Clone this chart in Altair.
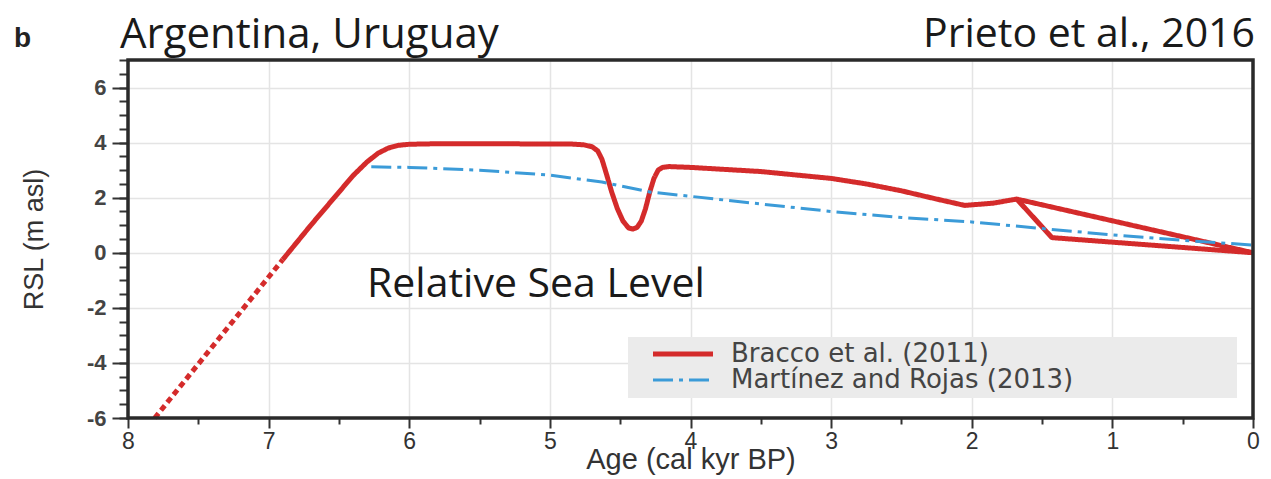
import altair as alt
import pandas as pd

# ---------------- data ----------------
series_names = ["Bracco et al. (2011)", "Martínez and Rojas (2013)"]
series_colors = ["#d42b2b", "#3b9bd8"]

# Bracco et al. (2011): main solid curve (upper branch after 1.68 kyr)
bracco_age = [6.9, 6.7, 6.5, 6.4, 6.3, 6.22, 6.15, 6.08, 6.0, 5.8, 5.5, 5.0, 4.85,
              4.76, 4.7, 4.66, 4.63, 4.6, 4.56, 4.52, 4.48, 4.44, 4.41, 4.38, 4.35,
              4.32, 4.29, 4.26, 4.23, 4.2, 4.15, 4.0, 3.5, 3.0, 2.75, 2.5, 2.25,
              2.05, 1.85, 1.68, 0.0]
bracco_rsl = [-0.25, 1.0, 2.2, 2.8, 3.3, 3.62, 3.8, 3.9, 3.94, 3.96, 3.96, 3.95, 3.95,
              3.92, 3.85, 3.7, 3.4, 2.9, 2.2, 1.6, 1.15, 0.9, 0.86, 0.92, 1.15,
              1.6, 2.2, 2.7, 3.0, 3.1, 3.13, 3.1, 2.95, 2.7, 2.5, 2.25, 1.95,
              1.72, 1.8, 1.95, 0.0]
# Bracco et al. (2011): lower branch
bracco_low_age = [1.68, 1.43, 0.0]
bracco_low_rsl = [1.95, 0.55, 0.0]
# Bracco et al. (2011): extrapolated (dashed) part
bracco_ext_age = [7.81, 6.9]
bracco_ext_rsl = [-6.0, -0.25]

# Martínez and Rojas (2013)
martinez_age = [6.27, 6.0, 5.5, 5.0, 4.63, 4.28, 4.0, 3.57, 3.0, 2.5, 2.0, 1.5, 1.0, 0.5, 0.0]
martinez_rsl = [3.12, 3.1, 3.0, 2.82, 2.57, 2.2, 2.05, 1.81, 1.5, 1.28, 1.12, 0.88, 0.65, 0.45, 0.28]

x_major = [8, 7, 6, 5, 4, 3, 2, 1, 0]
x_minor = [7.5, 6.5, 5.5, 4.5, 3.5, 2.5, 1.5, 0.5]
y_major = [-6, -4, -2, 0, 2, 4, 6]
y_minor = [v / 2 for v in range(-12, 15)]

# ---------------- tables ----------------
rows = []
for i, (a, r) in enumerate(zip(bracco_age, bracco_rsl)):
    rows.append({"age": a, "rsl": r, "series": series_names[0], "branch": "b1", "idx": i})
for i, (a, r) in enumerate(zip(bracco_low_age, bracco_low_rsl)):
    rows.append({"age": a, "rsl": r, "series": series_names[0], "branch": "b2", "idx": i})
for i, (a, r) in enumerate(zip(martinez_age, martinez_rsl)):
    rows.append({"age": a, "rsl": r, "series": series_names[1], "branch": "m1", "idx": i})
df = pd.DataFrame(rows)
df_ext = pd.DataFrame({"age": bracco_ext_age, "rsl": bracco_ext_rsl})
one = pd.DataFrame({"k": [0]})

W, H = 1125, 358
xs = alt.Scale(domain=[8, 0], nice=False, zero=False)
ys = alt.Scale(domain=[-6, 7], nice=False, zero=False)

lab_font = "Liberation Sans"
label_expr = "datum.value < 0 ? '-' + abs(datum.value) : '' + datum.value"

x_axis = alt.Axis(values=x_major, orient="bottom", grid=True, gridColor="#e4e4e4", gridWidth=1.5,
                  domain=False, tickSize=10, tickWidth=2, tickColor="#333",
                  labelFont=lab_font, labelFontSize=23, labelColor="#333", labelPadding=2,
                  labelFlush=False, labelOverlap=False, labelExpr=label_expr,
                  title="Age (cal kyr BP)", titleFont=lab_font, titleFontSize=29,
                  titleFontWeight="normal", titleColor="#333", titlePadding=-8)
y_axis = alt.Axis(values=y_major, orient="left", grid=True, gridColor="#e4e4e4", gridWidth=1.5,
                  domain=False, tickSize=16, tickWidth=2, tickColor="#333",
                  labelFont=lab_font, labelFontSize=22, labelFontWeight="bold", labelColor="#444",
                  labelPadding=6, labelFlush=False, labelOverlap=False, labelExpr=label_expr,
                  title="RSL (m asl)", titleFont=lab_font, titleFontSize=27,
                  titleFontWeight="normal", titleColor="#333", titlePadding=38)

legend = alt.Legend(title=None, orient="none", legendX=562, legendY=281,
                    symbolType="M-5,0H1", symbolSize=400, labelFont="DejaVu Sans",
                    labelFontSize=26, labelColor="#444", labelOffset=15, padding=0,
                    rowPadding=0, labelLimit=800, symbolStrokeWidth=4)

lines = alt.Chart(df).mark_line(strokeJoin="round").encode(
    x=alt.X("age:Q", scale=xs, axis=x_axis),
    y=alt.Y("rsl:Q", scale=ys, axis=y_axis),
    color=alt.Color("series:N", scale=alt.Scale(domain=series_names, range=series_colors), legend=legend),
    strokeDash=alt.StrokeDash("series:N", scale=alt.Scale(domain=series_names, range=[[1, 0], [20, 6, 4, 6]]), legend=legend),
    strokeWidth=alt.StrokeWidth("series:N", scale=alt.Scale(domain=series_names, range=[5, 3]), legend=legend),
    detail="branch:N",
    order="idx:Q",
)

ext = alt.Chart(df_ext).mark_line(color=series_colors[0], strokeWidth=5, strokeDash=[6, 4]).encode(
    x=alt.X("age:Q", scale=xs, axis=None),
    y=alt.Y("rsl:Q", scale=ys, axis=None),
)

minor_x = alt.Chart(df_ext).mark_point(opacity=0).encode(
    x=alt.X("age:Q", scale=xs, axis=alt.Axis(values=x_minor, orient="bottom", labels=False, grid=False,
                                             domain=False, tickSize=6, tickWidth=2, tickColor="#333", title=None)),
)
minor_y = alt.Chart(df_ext).mark_point(opacity=0).encode(
    y=alt.Y("rsl:Q", scale=ys, axis=alt.Axis(values=y_minor, orient="left", labels=False, grid=False,
                                             domain=False, tickSize=9, tickWidth=2, tickColor="#333", title=None)),
)

box = alt.Chart(one).mark_rect(color="#ebebeb").encode(
    x=alt.value(500), x2=alt.value(1109), y=alt.value(277), y2=alt.value(338)
)

frame = alt.Chart(one).mark_rect(filled=False, stroke="#2a2a2a", strokeWidth=3.5).encode(
    x=alt.value(0), x2=alt.value(W), y=alt.value(0), y2=alt.value(H)
)

def txt(s, x, y, size, font="Open Sans", align="left", weight="normal", color="#1a1a1a"):
    return alt.Chart(one).mark_text(text=s, align=align, baseline="alphabetic", font=font,
                                    fontSize=size, fontWeight=weight, color=color).encode(
        x=alt.value(x), y=alt.value(y))

t_b = txt("b", -114, -13, 28, font="Liberation Sans", weight="bold", color="#222")
t_a = txt("Argentina, Uruguay", -8, -12, 42)
t_p = txt("Prieto et al., 2016", 1127, -13, 41, align="right")
t_r = txt("Relative Sea Level", 239, 237, 41)

chart = alt.layer(box, minor_x, minor_y, lines, ext, frame, t_b, t_a, t_p, t_r).resolve_axis(
    x="independent", y="independent"
).properties(
    width=W, height=H,
    autosize=alt.AutoSizeParams(type="none"),
    padding={"left": 120, "top": 52, "right": 10, "bottom": 58},
).configure_view(strokeWidth=0).configure(background="white")

chart.save("out.html", embed_options={"renderer": "svg", "actions": False})
